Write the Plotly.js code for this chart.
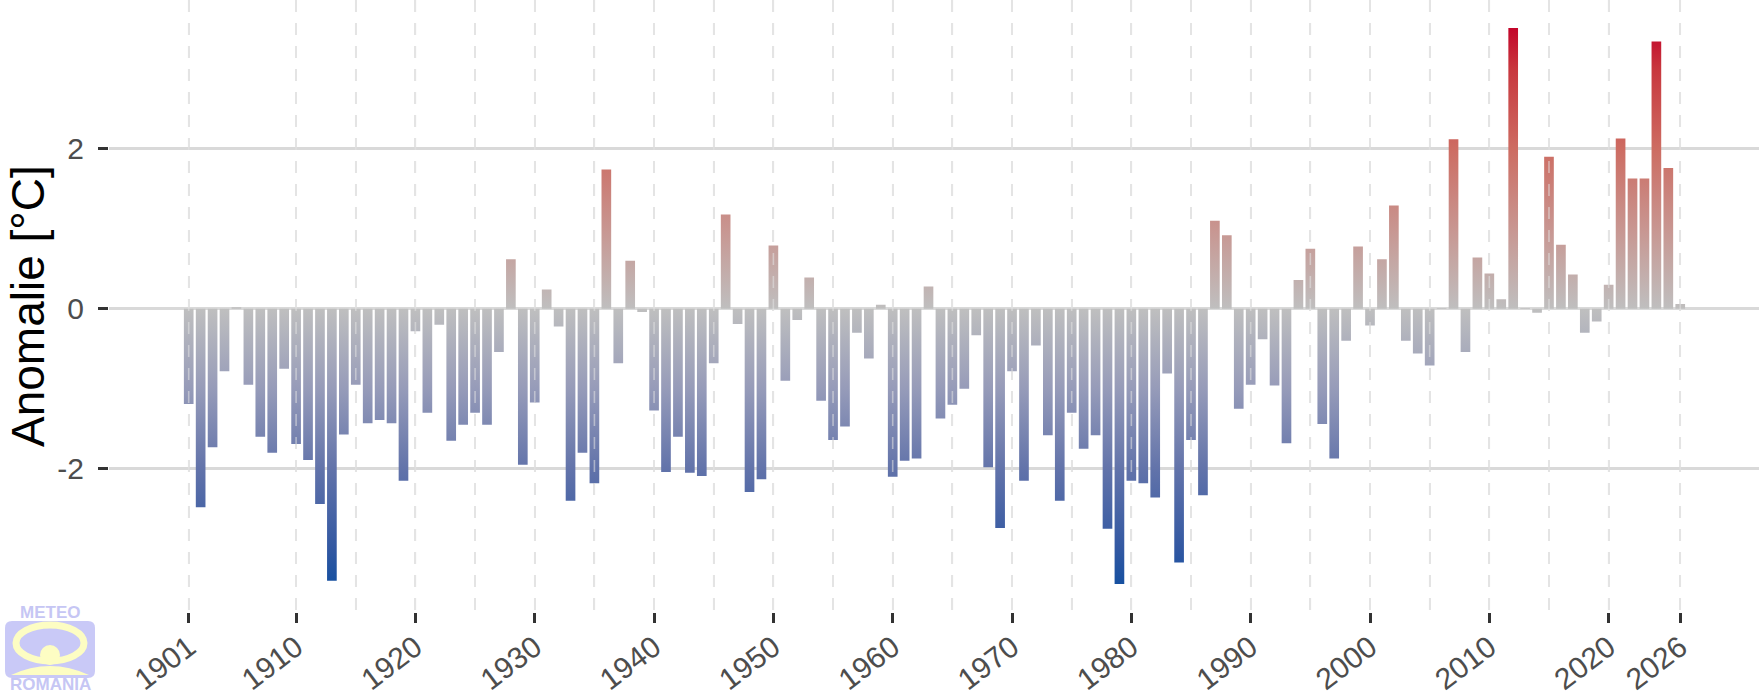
<!DOCTYPE html>
<html>
<head>
<meta charset="utf-8">
<script src="https://cdn.plot.ly/plotly-3.0.1.min.js"></script>
<style>
html,body{margin:0;padding:0;background:#ffffff;}
#chart{width:1759px;height:695px;}
</style>
</head>
<body>
<div id="chart"></div>
<script>
// ---------------- DATA ----------------
const years = [
 1901,1902,1903,1904,1905,1906,1907,1908,1909,1910,
 1911,1912,1913,1914,1915,1916,1917,1918,1919,1920,
 1921,1922,1923,1924,1925,1926,1927,1928,1929,1930,
 1931,1932,1933,1934,1935,1936,1937,1938,1939,1940,
 1941,1942,1943,1944,1945,1946,1947,1948,1949,1950,
 1951,1952,1953,1954,1955,1956,1957,1958,1959,1960,
 1961,1962,1963,1964,1965,1966,1967,1968,1969,1970,
 1971,1972,1973,1974,1975,1976,1977,1978,1979,1980,
 1981,1982,1983,1984,1985,1986,1987,1988,1989,1990,
 1991,1992,1993,1994,1995,1996,1997,1998,1999,2000,
 2001,2002,2003,2004,2005,2006,2007,2008,2009,2010,
 2011,2012,2013,2014,2015,2016,2017,2018,2019,2020,
 2021,2022,2023,2024,2025,2026
];
const anomaly = [
 -1.19,-2.48,-1.73,-0.78, 0.02,-0.95,-1.60,-1.80,-0.75,-1.69,
 -1.89,-2.44,-3.40,-1.57,-0.95,-1.43,-1.39,-1.43,-2.15,-0.28,
 -1.30,-0.20,-1.65,-1.45,-1.30,-1.45,-0.54, 0.62,-1.95,-1.17,
  0.24,-0.22,-2.40,-1.80,-2.18, 1.74,-0.68, 0.60,-0.04,-1.27,
 -2.04,-1.60,-2.05,-2.09,-0.68, 1.18,-0.19,-2.29,-2.13, 0.79,
 -0.90,-0.14, 0.39,-1.15,-1.64,-1.47,-0.30,-0.62, 0.05,-2.10,
 -1.90,-1.87, 0.28,-1.37,-1.20,-1.00,-0.33,-1.98,-2.74,-0.78,
 -2.15,-0.46,-1.58,-2.40,-1.30,-1.75,-1.58,-2.75,-3.44,-2.15,
 -2.18,-2.36,-0.81,-3.17,-1.64,-2.33, 1.10, 0.92,-1.25,-0.95,
 -0.38,-0.96,-1.68, 0.36, 0.75,-1.44,-1.87,-0.40, 0.78,-0.21,
  0.62, 1.29,-0.40,-0.56,-0.71, 0.01, 2.12,-0.54, 0.64, 0.44,
  0.12, 3.51, 0.01,-0.05, 1.90, 0.80, 0.43,-0.30,-0.16, 0.30,
  2.13, 1.63, 1.63, 3.34, 1.76, 0.06
];
const tickYears  = [1901,1910,1920,1930,1940,1950,1960,1970,1980,1990,2000,2010,2020,2026];
const tickLabels = ['1901','1910','1920','1930','1940','1950','1960','1970','1980','1990','2000','2010','2020','2026'];
const minorGridYears = [1915,1925,1935,1945,1955,1965,1975,1985,1995,2005,2015];
const yTicks = [-2, 0, 2];
const yTickLabels = ['-2', '0', '2'];
const yTitle = 'Anomalie [°C]';
const logoTop = 'METEO';
const logoBottom = 'ROMANIA';

// colour ramp as a function of the anomaly level
const posLevels = [0, 1, 2, 3, 3.51];
const posColors = ['rgb(191,191,191)','rgb(200,150,145)','rgb(205,108,98)','rgb(200,55,62)','rgb(195,5,42)'];
const negLevels = [-3.44, -3, -2, -1, 0];
const negColors = ['rgb(22,80,160)','rgb(50,88,162)','rgb(98,115,170)','rgb(150,155,185)','rgb(191,191,191)'];

// ---------------- BUILD BARS ----------------
const BAR_W = 0.81;   // bar width in years
function barOutline(sign){
  const xs = [], ys = [];
  for (let i = 0; i < anomaly.length; i++){
    const v = anomaly[i];
    if ((sign > 0 && v < 0) || (sign < 0 && v >= 0)) continue;
    const x0 = years[i] - BAR_W/2, x1 = years[i] + BAR_W/2;
    xs.push(x0, x0, x1, x1, null);
    ys.push(0, v, v, 0, null);
  }
  return {xs, ys};
}
function scale(levels, colors){
  const lo = levels[0], hi = levels[levels.length-1];
  return levels.map((l, i) => [(l - lo) / (hi - lo), colors[i]]);
}
const pos = barOutline(1), neg = barOutline(-1);
const traces = [
  {type: 'scatter', mode: 'none', x: pos.xs, y: pos.ys, fill: 'toself',
   fillgradient: {type: 'vertical', colorscale: scale(posLevels, posColors),
                  start: posLevels[0], stop: posLevels[posLevels.length-1]},
   hoverinfo: 'skip', showlegend: false},
  {type: 'scatter', mode: 'none', x: neg.xs, y: neg.ys, fill: 'toself',
   fillgradient: {type: 'vertical', colorscale: scale(negLevels, negColors),
                  start: negLevels[0], stop: negLevels[negLevels.length-1]},
   hoverinfo: 'skip', showlegend: false}
];

// ---------------- LAYOUT ----------------
const W = 1759, H = 695, ML = 109, MR = 0, MT = 0, MB = 83;
const PW = W - ML - MR, PH = H - MT - MB;
const PX = x => (x - ML) / PW;          // pixel -> paper (x)
const PY = y => (MT + PH - y) / PH;     // pixel -> paper (y)

const lav = '#c9c9f7', yel = '#fdfdc3';
const r = 7, lx0 = 5, lx1 = 95, ly0 = 621, ly1 = 678;
const rectPath =
  'M ' + PX(lx0+r) + ',' + PY(ly0) +
  ' L ' + PX(lx1-r) + ',' + PY(ly0) +
  ' Q ' + PX(lx1) + ',' + PY(ly0) + ' ' + PX(lx1) + ',' + PY(ly0+r) +
  ' L ' + PX(lx1) + ',' + PY(ly1-r) +
  ' Q ' + PX(lx1) + ',' + PY(ly1) + ' ' + PX(lx1-r) + ',' + PY(ly1) +
  ' L ' + PX(lx0+r) + ',' + PY(ly1) +
  ' Q ' + PX(lx0) + ',' + PY(ly1) + ' ' + PX(lx0) + ',' + PY(ly1-r) +
  ' L ' + PX(lx0) + ',' + PY(ly0+r) +
  ' Q ' + PX(lx0) + ',' + PY(ly0) + ' ' + PX(lx0+r) + ',' + PY(ly0) + ' Z';
const basePath =
  'M ' + PX(11) + ',' + PY(675) +
  ' Q ' + PX(50) + ',' + PY(657) + ' ' + PX(89) + ',' + PY(675) +
  ' Z';

const gridDash = '12px,11px';
const gridCol = '#e4e4e4';

// dashed vertical guide lines also drawn over the bars (semi-transparent)
const vlineYears = tickYears.concat(minorGridYears);
const vShapes = vlineYears.map(yr => ({
  type: 'line', xref: 'x', yref: 'paper', x0: yr, x1: yr, y0: 1, y1: 0,
  line: {color: gridCol, width: 1.6, dash: gridDash}, opacity: 0.55, layer: 'above'
}));

const logoShapes = [
  {type: 'path', xref: 'paper', yref: 'paper', path: rectPath, fillcolor: lav, line: {width: 0}, layer: 'above'},
  {type: 'circle', xref: 'paper', yref: 'paper',
   x0: PX(50-34), x1: PX(50+34), y0: PY(643+18), y1: PY(643-18),
   line: {color: yel, width: 7}, fillcolor: 'rgba(0,0,0,0)', layer: 'above'},
  {type: 'circle', xref: 'paper', yref: 'paper',
   x0: PX(40), x1: PX(60), y0: PY(665), y1: PY(645),
   fillcolor: yel, line: {width: 0}, layer: 'above'},
  {type: 'path', xref: 'paper', yref: 'paper', path: basePath, fillcolor: yel, line: {width: 0}, layer: 'above'}
];

const layout = {
  width: W, height: H,
  margin: {l: ML, r: MR, t: MT, b: MB, pad: 0},
  paper_bgcolor: '#ffffff', plot_bgcolor: '#ffffff',
  font: {family: 'Liberation Sans, Arial, sans-serif', color: '#4d4d4d'},
  xaxis: {
    range: [1894.32, 2032.6],
    tickmode: 'array', tickvals: tickYears, ticktext: tickLabels,
    tickangle: -37,
    tickfont: {size: 30, color: '#4d4d4d', family: 'Liberation Sans, Arial, sans-serif'},
    ticks: 'outside', ticklen: 10, tickwidth: 3, tickcolor: '#333333',
    ticklabelstandoff: -5, ticklabelshift: 0,
    showgrid: true, gridcolor: gridCol, gridwidth: 1.6, griddash: gridDash,
    minor: {tickmode: 'array', tickvals: minorGridYears, ticks: '', showgrid: true,
            gridcolor: gridCol, gridwidth: 1.6, griddash: gridDash},
    zeroline: false, showline: false, fixedrange: true
  },
  yaxis: {
    range: [-3.79, 3.86],
    tickmode: 'array', tickvals: yTicks, ticktext: yTickLabels,
    tickfont: {size: 30, color: '#4d4d4d', family: 'Liberation Sans, Arial, sans-serif'},
    ticks: 'outside', ticklen: 10, tickwidth: 3, tickcolor: '#333333',
    ticklabelstandoff: 8,
    showgrid: true, gridcolor: '#d9d9d9', gridwidth: 3,
    zeroline: false, showline: false, fixedrange: true
  },
  shapes: vShapes.concat(logoShapes),
  annotations: [
    {text: yTitle, xref: 'paper', yref: 'paper', x: PX(28), y: PY(306), xanchor: 'center', yanchor: 'middle',
     textangle: -90, showarrow: false, borderpad: 0,
     font: {size: 46, color: '#000000', family: 'Liberation Sans, Arial, sans-serif'}},
    {text: logoTop, xref: 'paper', yref: 'paper', x: PX(50), y: PY(612.5), xanchor: 'center', yanchor: 'middle',
     showarrow: false, font: {size: 17, color: '#c6c6f4', family: 'Liberation Sans, Arial, sans-serif', weight: 'bold'}},
    {text: logoBottom, xref: 'paper', yref: 'paper', x: PX(50), y: PY(695), xanchor: 'center', yanchor: 'bottom',
     showarrow: false, borderpad: 0,
     font: {size: 17, color: '#c6c6f4', family: 'Liberation Sans, Arial, sans-serif', weight: 'bold'}}
  ]
};

Plotly.newPlot('chart', traces, layout, {displayModeBar: false, responsive: false});
</script>
</body>
</html>
